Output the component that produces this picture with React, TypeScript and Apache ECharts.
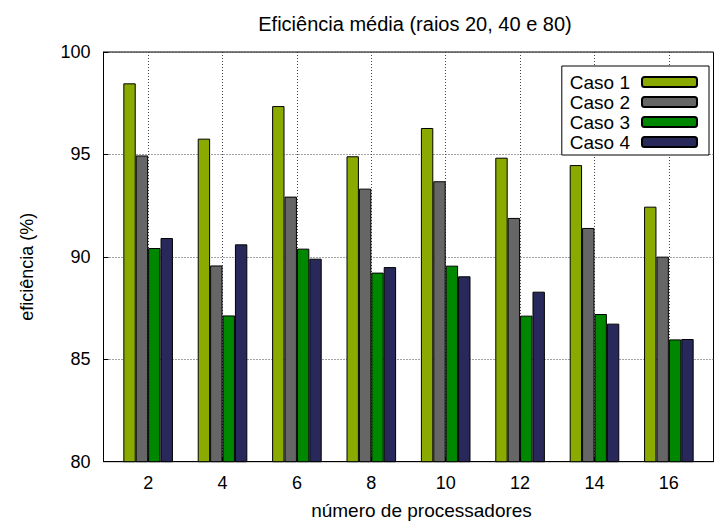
import React, { useEffect, useRef } from "react";
import * as echarts from "echarts";

const categories = ["2", "4", "6", "8", "10", "12", "14", "16"];
const seriesNames = ["Caso 1", "Caso 2", "Caso 3", "Caso 4"];
const caso1 = [98.47, 95.77, 97.36, 94.91, 96.29, 94.84, 94.48, 92.45];
const caso2 = [94.95, 89.58, 92.94, 93.33, 93.69, 91.9, 91.41, 90.01];
const caso3 = [90.43, 87.14, 90.4, 89.23, 89.57, 87.13, 87.21, 85.97];
const caso4 = [90.92, 90.61, 89.91, 89.5, 89.05, 88.3, 86.74, 85.99];
const colors = ["#8aaa00", "#666666", "#008700", "#28285a"];
const yTicks = [80, 85, 90, 95, 100];

const FONT = "'Liberation Sans', Arial, Helvetica, sans-serif";

export default function App() {
  const ref = useRef<HTMLDivElement>(null);
  useEffect(() => {
    if (!ref.current) return;
    const chart = echarts.init(ref.current, null, { renderer: "svg" });
    const all = [caso1, caso2, caso3, caso4];
    const idx = categories.map((_, i) => i);
    const gridLine = { show: true, lineStyle: { color: "#444", type: [1, 2], width: 1 } };
    chart.setOption({
      animation: false,
      backgroundColor: "#fff",
      textStyle: { fontFamily: FONT },
      title: {
        text: "Eficiência média (raios 20, 40 e 80)",
        left: 410,
        top: 9,
        textAlign: "center",
        textStyle: { fontFamily: FONT, fontSize: 20, fontWeight: "normal", color: "#000" },
      },
      legend: {
        orient: "vertical",
        align: "right",
        right: 6,
        top: 66,
        padding: [6, 11, 3, 8],
        itemGap: 0,
        itemWidth: 55,
        itemHeight: 10,
        backgroundColor: "#fff",
        borderColor: "#000",
        borderWidth: 1,
        borderRadius: 0,
        data: seriesNames,
        textStyle: { fontFamily: FONT, fontSize: 19, color: "#000", lineHeight: 20, padding: [0, 7, 0, 0] },
      },
      grid: {
        left: 103.5,
        right: 1.5,
        top: 52,
        bottom: 59.3,
        outerBoundsMode: "none",
        containLabel: false,
        show: true,
        borderColor: "#000",
        borderWidth: 1,
        backgroundColor: "transparent",
      },
      xAxis: {
        type: "value",
        min: -0.6,
        max: 7.6,
        name: "número de processadores",
        nameLocation: "middle",
        nameGap: 39,
        nameTextStyle: { fontFamily: FONT, fontSize: 19, lineHeight: 19, color: "#000", padding: [0, 0, 0, 26] },
        axisLine: { show: true, onZero: false, lineStyle: { color: "#000", width: 1 } },
        axisTick: { show: true, inside: true, length: 5, customValues: idx, lineStyle: { color: "#000" } },
        axisLabel: {
          customValues: idx,
          formatter: (v: number) => categories[Math.round(v)] ?? "",
          fontFamily: FONT,
          fontSize: 18,
          color: "#000",
          margin: 12,
        },
        splitLine: gridLine,
      },
      yAxis: {
        type: "value",
        min: 80,
        max: 100,
        interval: 5,
        name: "eficiência (%)",
        nameLocation: "middle",
        nameGap: 68,
        nameTextStyle: { fontFamily: FONT, fontSize: 18, color: "#000", padding: [0, 20, 0, 0] },
        axisLine: { show: true, onZero: false, lineStyle: { color: "#000", width: 1 } },
        axisTick: { show: true, inside: true, length: 5, lineStyle: { color: "#000" } },
        axisLabel: {
          fontFamily: FONT,
          fontSize: 18,
          color: "#000",
          margin: 13,
          formatter: (v: number) => (yTicks.includes(v) ? String(v) : ""),
        },
        splitLine: gridLine,
      },
      series: all.map((vals, s) => ({
        name: seriesNames[s],
        type: "bar",
        barWidth: 12.4,
        barGap: "0%",
        itemStyle: { color: colors[s], borderColor: "#000", borderWidth: 1 },
        data: vals.map((v, i) => [i, v]),
      })),
    });
    return () => chart.dispose();
  }, []);
  return (
    <div
      ref={ref}
      style={{ position: "fixed", left: 0, top: 0, width: 715, height: 521 }}
    />
  );
}
